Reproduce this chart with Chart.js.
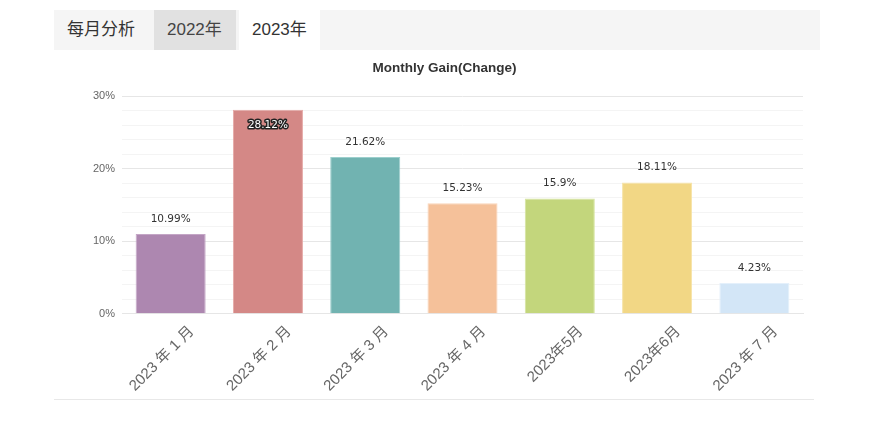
<!DOCTYPE html>
<html>
<head>
<meta charset="utf-8">
<script src="https://cdn.jsdelivr.net/npm/chart.js@4"></script>
<style>
  html, body { margin: 0; padding: 0; background: #fff; }
  body { width: 883px; height: 432px; position: relative; overflow: hidden;
         font-family: "Liberation Sans", "Noto Sans CJK SC", sans-serif; }
  .tabs { position: absolute; left: 54px; top: 10px; width: 766px; height: 40px;
          background: #f5f5f5; display: flex; }
  .tab { height: 40px; line-height: 40px; font-size: 17px; color: #333; padding: 0 13px;
         font-family: "Liberation Sans", "Noto Sans CJK SC", sans-serif; }
  .tab.first { width: 74px; }
  .tab.grey { background: #e1e1e1; color: #444; width: 56px; }
  .tab.white { background: #fff; color: #333; margin-left: 3px; width: 55px; }
  .wrap { position: absolute; left: 54px; top: 55px; width: 771px; height: 341px; }
  .rule { position: absolute; left: 54px; top: 399px; width: 760px; height: 1px; background: #e8e8e8; }
</style>
</head>
<body>
<div class="tabs">
  <div class="tab first">每月分析</div>
  <div class="tab grey">2022年</div>
  <div class="tab white">2023年</div>
</div>
<div class="wrap"><canvas id="gainChart"></canvas></div>
<div class="rule"></div>
<script>
// 数据
const months = ["2023 年 1 月", "2023 年 2 月", "2023 年 3 月", "2023 年 4 月", "2023年5月", "2023年6月", "2023 年 7 月"];
const gains = [10.99, 28.12, 21.62, 15.23, 15.9, 18.11, 4.23];
const barColors = ["#ad87b0", "#d48886", "#71b3b1", "#f5c19a", "#c3d67c", "#f2d785", "#d3e6f7"];
const borderColors = ["#c4a6c6", "#e5a9a7", "#9ccfcd", "#f9d4b8", "#d6e5a0", "#f7e4a8", "#e4f0fb"];

// 柱顶数值
const valueLabels = {
  id: "valueLabels",
  afterDatasetsDraw(chart) {
    const ctx = chart.ctx;
    const meta = chart.getDatasetMeta(0);
    const top = chart.chartArea.top;
    ctx.save();
    ctx.font = "10.5px 'DejaVu Sans', sans-serif";
    ctx.textAlign = "center";
    ctx.textBaseline = "middle";
    meta.data.forEach((bar, i) => {
      const text = gains[i] + "%";
      let y = bar.y - 15;
      if (y - 6 < top) {
        y = bar.y + 15.5;
        ctx.lineWidth = 3;
        ctx.strokeStyle = "#222";
        ctx.lineJoin = "round";
        ctx.strokeText(text, bar.x, y);
        ctx.fillStyle = "#fff";
        ctx.fillText(text, bar.x, y);
      } else {
        ctx.fillStyle = "#333";
        ctx.fillText(text, bar.x, y);
      }
    });
    ctx.restore();
  }
};

new Chart(document.getElementById("gainChart"), {
  type: "bar",
  data: {
    labels: months,
    datasets: [{
      label: "Monthly Gain",
      data: gains,
      backgroundColor: barColors,
      borderColor: borderColors,
      borderWidth: 1
    }]
  },
  options: {
    responsive: true,
    maintainAspectRatio: false,
    animation: false,
    layout: { padding: { left: 32, right: 22 } },
    plugins: {
      legend: { display: false },
      tooltip: { enabled: false },
      title: {
        display: true,
        text: "Monthly Gain(Change)",
        color: "#333",
        font: { size: 13.5, weight: "bold", family: "'Liberation Sans', sans-serif" },
        padding: { top: 5, bottom: 20 }
      }
    },
    scales: {
      x: {
        grid: { display: false },
        border: { color: "#e6e6e6" },
        ticks: {
          color: "#666",
          minRotation: 45,
          maxRotation: 45,
          padding: 1,
          labelOffset: 21,
          font: { size: 15, family: "'Liberation Sans', 'Noto Sans CJK SC', sans-serif" }
        }
      },
      y: {
        min: 0,
        max: 30,
        border: { display: false },
        grid: {
          drawTicks: false,
          color: (c) => (c.tick && c.tick.value % 10 === 0 ? "#e6e6e6" : "#f4f4f4")
        },
        ticks: {
          stepSize: 2,
          autoSkip: false,
          padding: 7,
          color: "#666",
          font: { size: 11, family: "'Liberation Sans', sans-serif" },
          callback: (v) => (v % 10 === 0 ? v + "%" : "")
        }
      }
    }
  },
  plugins: [valueLabels]
});
</script>
</body>
</html>
